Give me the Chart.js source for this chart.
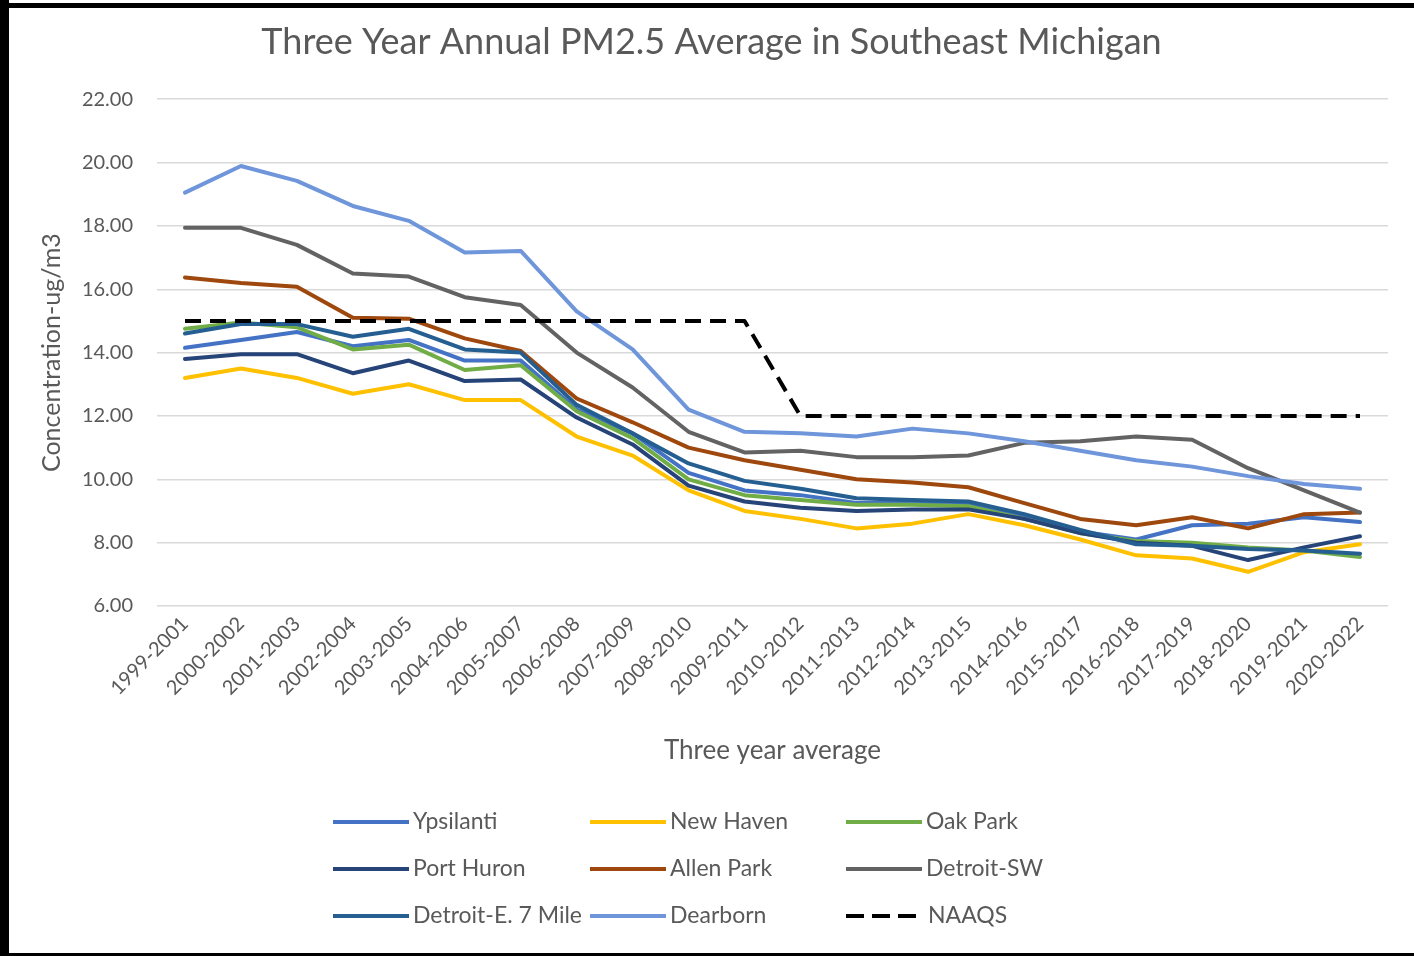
<!DOCTYPE html>
<html>
<head>
<meta charset="utf-8">
<script src="https://cdn.jsdelivr.net/npm/chart.js@4.4.1/dist/chart.umd.min.js"></script>
<style>
  html, body { margin: 0; padding: 0; background: #ffffff; }
  #wrap { position: relative; width: 1414px; height: 956px; overflow: hidden; background: #fff; }
  #c { position: absolute; left: 0; top: 0; }
  .frame { position: absolute; background: #000; }
</style>
</head>
<body>
<div id="wrap">
  <canvas id="c" width="1414" height="956"></canvas>
  <div class="frame" style="left:0;top:0;width:9px;height:956px;"></div>
  <div class="frame" style="left:0;top:3px;width:1414px;height:5px;"></div>
  <div class="frame" style="left:0;top:953px;width:1414px;height:3px;"></div>
</div>
<script>
const categories = ["1999-2001","2000-2002","2001-2003","2002-2004","2003-2005","2004-2006","2005-2007","2006-2008","2007-2009","2008-2010","2009-2011","2010-2012","2011-2013","2012-2014","2013-2015","2014-2016","2015-2017","2016-2018","2017-2019","2018-2020","2019-2021","2020-2022"];

const ypsilanti   = [14.15,14.40,14.65,14.20,14.40,13.75,13.75,12.20,11.45,10.20,9.65,9.50,9.25,9.25,9.20,8.85,8.35,8.10,8.55,8.60,8.80,8.65];
const newHaven    = [13.20,13.50,13.20,12.70,13.00,12.50,12.50,11.35,10.75,9.65,9.00,8.75,8.45,8.60,8.90,8.55,8.10,7.60,7.50,7.08,7.70,7.95];
const oakPark     = [14.75,14.95,14.80,14.10,14.25,13.45,13.60,12.15,11.30,10.00,9.50,9.35,9.20,9.20,9.15,8.75,8.30,8.05,8.00,7.85,7.75,7.55];
const portHuron   = [13.80,13.95,13.95,13.35,13.75,13.10,13.15,11.95,11.10,9.80,9.30,9.10,9.00,9.05,9.05,8.75,8.30,8.00,7.90,7.45,7.85,8.20];
const allenPark   = [16.37,16.20,16.08,15.10,15.07,14.45,14.05,12.55,11.80,11.00,10.60,10.30,10.00,9.90,9.75,9.25,8.75,8.55,8.80,8.45,8.90,8.95];
const detroitSW   = [17.94,17.94,17.40,16.50,16.40,15.75,15.50,14.00,12.90,11.50,10.85,10.90,10.70,10.70,10.75,11.15,11.20,11.35,11.25,10.35,9.65,8.95];
const detroitE7   = [14.60,14.90,14.90,14.50,14.75,14.10,14.00,12.35,11.45,10.50,9.95,9.70,9.40,9.35,9.30,8.90,8.40,7.95,7.90,7.80,7.75,7.65];
const dearborn    = [19.05,19.89,19.42,18.63,18.16,17.16,17.21,15.30,14.10,12.20,11.50,11.45,11.35,11.60,11.45,11.20,10.90,10.60,10.40,10.10,9.85,9.70];
const naaqs       = [15,15,15,15,15,15,15,15,15,15,15,12,12,12,12,12,12,12,12,12,12,12];

const yTicks = [6,8,10,12,14,16,18,20,22];

const seriesNames  = ["Ypsilanti","New Haven","Oak Park","Port Huron","Allen Park","Detroit-SW","Detroit-E. 7 Mile","Dearborn","NAAQS"];
const seriesValues = [ypsilanti,newHaven,oakPark,portHuron,allenPark,detroitSW,detroitE7,dearborn,naaqs];
const seriesColors = ["#4472C4","#FFC000","#70AD47","#264478","#9E480E","#636363","#255E91","#6F95DA","#000000"];

const FONT = "Lato, 'Open Sans', 'DejaVu Sans', sans-serif";
const TEXT = "#595959";

const datasets = seriesNames.map((name, i) => ({
  label: name,
  data: seriesValues[i],
  borderColor: seriesColors[i],
  backgroundColor: seriesColors[i],
  borderWidth: 4,
  borderDash: name === "NAAQS" ? [16, 9] : [],
  pointRadius: 0,
  tension: 0,
  fill: false,
  borderJoinStyle: "round",
  borderCapStyle: name === "NAAQS" ? "butt" : "round",
  order: seriesNames.length - i
}));

const gridLegend = {
  id: "gridLegend",
  afterDraw(chart) {
    const ctx = chart.ctx;
    const cols = [333, 590, 846];
    const rows = [822, 869, 916];
    ctx.save();
    ctx.font = "23px " + FONT;
    ctx.textBaseline = "middle";
    ctx.textAlign = "left";
    chart.data.datasets.forEach((ds, i) => {
      const x = cols[i % 3];
      const y = rows[Math.floor(i / 3)];
      const dashed = ds.borderDash && ds.borderDash.length;
      ctx.beginPath();
      ctx.strokeStyle = ds.borderColor;
      ctx.lineWidth = 4;
      ctx.setLineDash(dashed ? [18, 8] : []);
      ctx.lineCap = "butt";
      ctx.moveTo(x, y);
      ctx.lineTo(x + (dashed ? 70 : 76), y);
      ctx.stroke();
      ctx.setLineDash([]);
      ctx.fillStyle = TEXT;
      ctx.fillText(ds.label, x + (dashed ? 82 : 80), y);
    });
    ctx.restore();
  }
};

new Chart(document.getElementById("c"), {
  type: "line",
  data: { labels: categories, datasets },
  plugins: [gridLegend],
  options: {
    responsive: false,
    animation: false,
    devicePixelRatio: 1,
    layout: { padding: { left: 35, top: 8, right: 26, bottom: 185 } },
    plugins: {
      legend: { display: false },
      tooltip: { enabled: false },
      title: {
        display: true,
        text: "Three Year Annual PM2.5 Average in Southeast Michigan",
        color: TEXT,
        font: { family: FONT, size: 36, weight: "normal" },
        padding: { top: 13, bottom: 35 }
      }
    },
    scales: {
      x: {
        offset: true,
        grid: { display: false, drawTicks: false },
        border: { display: false },
        ticks: {
          color: TEXT,
          font: { family: FONT, size: 20 },
          minRotation: 45,
          maxRotation: 45,
          autoSkip: false,
          padding: 6
        },
        title: {
          display: true,
          text: "Three year average",
          color: TEXT,
          font: { family: FONT, size: 26 },
          padding: { top: 4, bottom: 5 }
        },
        afterFit(scale) { scale.height = 165; }
      },
      y: {
        min: 6,
        max: 22,
        afterBuildTicks(scale) { scale.ticks = yTicks.map(v => ({ value: v })); },
        grid: { color: "#D9D9D9", lineWidth: 1.5, drawTicks: false },
        border: { display: false },
        ticks: {
          color: TEXT,
          font: { family: FONT, size: 20 },
          padding: 24,
          callback: v => Number(v).toFixed(2)
        },
        title: {
          display: true,
          text: "Concentration-ug/m3",
          color: TEXT,
          font: { family: FONT, size: 25 },
          padding: { top: 2, bottom: 0 }
        },
        afterFit(scale) { scale.width = 122; }
      }
    }
  }
});
</script>
</body>
</html>
